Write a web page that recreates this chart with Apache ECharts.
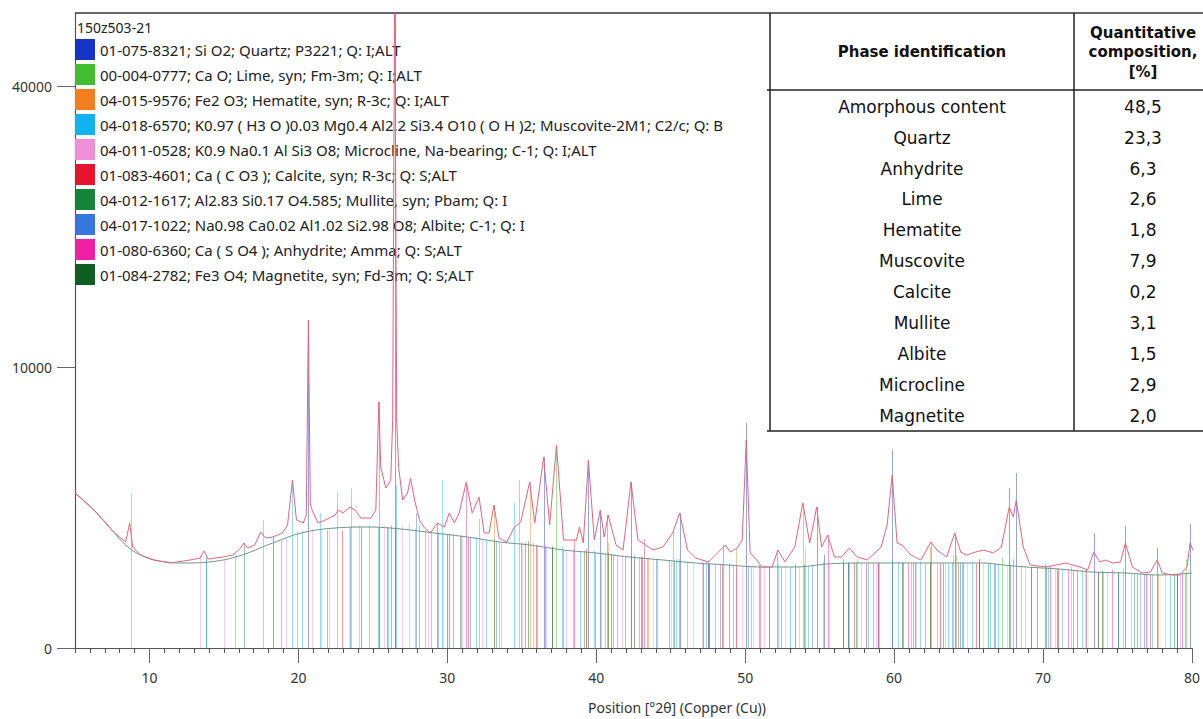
<!DOCTYPE html>
<html><head><meta charset="utf-8">
<script src="https://cdn.jsdelivr.net/npm/echarts@6/dist/echarts.min.js"></script>
<style>html,body{margin:0;padding:0;background:#fff}#c{width:1203px;height:719px}</style>
</head><body><div id="c"></div>
<script>
// ---------- DATA ----------
const sampleName = '150z503-21';
const xAxisTitle = 'Position [°2θ] (Copper (Cu))';
const xTickLabels = [10, 20, 30, 40, 50, 60, 70, 80];
const yTickCounts = [0, 10000, 40000];

const patternTheta = [5.0,6.27,7.6,8.4,8.67,8.87,9.4,10.27,11.4,12.73,13.4,13.67,13.93,14.93,15.6,16.13,16.33,16.6,17.07,17.47,17.8,18.27,18.93,19.27,19.6,19.87,20.33,20.53,20.67,20.8,21.0,21.33,21.8,22.47,22.67,23.0,23.47,23.8,24.2,24.87,25.2,25.4,25.53,25.87,26.2,26.33,26.47,26.6,26.73,27.0,27.33,27.53,27.8,28.13,28.47,28.87,29.33,29.8,30.13,30.47,30.8,31.27,31.67,32.13,32.47,32.8,33.13,33.47,34.0,34.47,34.93,35.53,35.87,36.47,36.87,37.33,37.8,38.67,38.87,39.13,39.47,39.87,40.27,40.53,40.8,41.33,41.8,42.33,42.8,43.13,43.8,44.47,45.13,45.6,46.13,46.67,47.53,48.13,48.67,49.0,49.47,49.8,50.07,50.33,50.67,51.13,51.8,52.2,52.67,53.33,53.87,54.33,54.8,55.13,55.53,56.0,56.47,57.0,57.53,58.2,59.13,59.53,59.87,60.2,60.53,61.13,61.8,62.47,62.87,63.53,64.07,64.47,64.87,65.47,66.0,66.67,67.2,67.73,68.0,68.2,68.67,69.13,70.2,71.53,72.47,73.0,73.4,73.8,74.2,74.67,75.2,75.53,76.0,76.67,77.2,77.67,78.0,78.67,79.2,79.67,79.87,80.2];
const patternCounts = [3043,2412,1704,1423,1979,1292,1095,981,915,981,1026,1192,1003,1049,1095,1267,1396,1267,1344,1704,1532,1560,1675,1916,3574,2075,1979,2240,13625,2590,2308,1979,2075,2240,2412,2308,2518,2412,2140,2140,2412,7664,4149,3242,3574,6584,60000,6584,4149,2774,3043,3660,2774,2075,1824,1675,1979,1854,2308,1979,2308,3490,2308,2888,1675,1675,2590,1532,1423,1824,2011,3490,1979,4620,1916,5219,1477,1477,1854,1396,4476,1477,2412,1560,2240,1344,1216,3490,1477,1396,1216,1292,1675,2308,1216,1026,937,1143,1344,1167,1267,1477,5479,1143,1026,831,831,1216,937,1292,2663,1396,2518,1292,1617,1049,1049,1267,1049,981,1292,1916,3791,1396,1344,1095,981,1423,1216,1049,1675,1167,1095,1167,1216,1143,1292,2518,2173,2774,1292,872,831,915,831,771,1167,937,981,915,937,1396,831,712,731,981,712,675,675,831,1396,1095];

const backgroundTheta = [5.0,6.27,7.6,8.4,9.4,10.67,12.33,14.0,16.0,18.27,20.2,22.47,24.67,26.87,29.13,31.33,33.53,35.53,37.8,40.0,42.2,44.47,46.67,48.87,51.13,53.33,55.53,57.73,60.0,63.33,66.0,67.33,68.87,71.07,73.33,75.53,77.8,80.0];
const backgroundCounts = [3043,2412,1704,1344,1095,959,915,937,1072,1396,1675,1824,1854,1794,1675,1560,1423,1344,1216,1143,1049,981,915,872,831,831,894,915,915,915,915,872,831,790,731,712,675,712];

const phaseNames = [
  '01-075-8321; Si O2; Quartz; P3221; Q: I;ALT',
  '00-004-0777; Ca O; Lime, syn; Fm-3m; Q: I;ALT',
  '04-015-9576; Fe2 O3; Hematite, syn; R-3c; Q: I;ALT',
  '04-018-6570; K0.97 ( H3 O )0.03 Mg0.4 Al2.2 Si3.4 O10 ( O H )2; Muscovite-2M1; C2/c; Q: B',
  '04-011-0528; K0.9 Na0.1 Al Si3 O8; Microcline, Na-bearing; C-1; Q: I;ALT',
  '01-083-4601; Ca ( C O3 ); Calcite, syn; R-3c; Q: S;ALT',
  '04-012-1617; Al2.83 Si0.17 O4.585; Mullite, syn; Pbam; Q: I',
  '04-017-1022; Na0.98 Ca0.02 Al1.02 Si2.98 O8; Albite; C-1; Q: I',
  '01-080-6360; Ca ( S O4 ); Anhydrite; Amma; Q: S;ALT',
  '01-084-2782; Fe3 O4; Magnetite, syn; Fd-3m; Q: S;ALT'
];

// reference sticks: [position °2θ, counts]
const quartzSticks = [[20.67,13625],[26.47,60000],[36.47,4620],[39.47,4476],[40.27,2400],[42.33,3490],[45.6,2300],[50.07,6411],[54.8,2518],[55.27,1100],[59.87,4965],[64.07,1650],[65.73,1000],[67.73,3242],[68.2,3879],[73.4,1675],[75.53,1885],[77.67,1267],[79.87,1947]];
const limeSticks = [[32.13,2100],[37.33,5219],[53.87,2663],[64.13,1100],[67.27,1050],[79.6,1000]];
const hematiteSticks = [[24.07,1900],[33.13,2590],[35.53,3490],[39.3,1170],[40.8,1400],[43.5,1020],[49.4,1250],[54.0,1250],[57.53,1000],[62.4,1300],[63.93,1100],[69.6,820],[71.87,850],[75.4,800],[77.7,680]];
const muscoviteSticks = [[8.73,3043],[13.8,1000],[15.73,1100],[17.6,2075],[19.6,3574],[19.93,1700],[20.27,1750],[21.47,2308],[22.6,3082],[23.53,3242],[24.73,1900],[25.33,1850],[26.0,1850],[26.53,3365],[27.8,1800],[28.47,1750],[28.9,1700],[29.67,3574],[30.93,1600],[31.93,1550],[32.6,1480],[33.5,1420],[34.47,2663],[34.8,3574],[35.73,1400],[36.0,1330],[37.67,1300],[38.47,1250],[38.9,1180],[39.87,1200],[40.6,1120],[41.4,1100],[42.87,1050],[43.4,1020],[44.1,990],[45.13,1763],[45.33,1000],[46.1,930],[47.4,950],[48.0,890],[49.2,870],[50.4,845],[51.6,830],[52.2,900],[53.0,830],[54.2,860],[55.2,950],[56.6,920],[57.0,910],[58.27,950],[59.0,915],[60.27,950],[61.1,915],[61.73,950],[62.9,915],[63.6,915],[64.53,920],[65.2,915],[66.47,900],[67.0,885],[68.53,850],[69.6,820],[70.33,820],[71.3,785],[72.6,780],[74.0,725],[75.0,715],[76.53,720],[77.3,685],[78.5,690],[79.5,705]];
const microclineSticks = [[13.4,1100],[15.0,1000],[19.2,1550],[20.93,1800],[21.5,1750],[22.07,1750],[23.4,1850],[24.2,1850],[25.73,1900],[26.93,1900],[27.4,2000],[28.7,1700],[29.73,1700],[30.13,1650],[31.0,1580],[32.33,1500],[33.6,1420],[35.0,1400],[36.6,1350],[38.0,1210],[40.3,1130],[41.73,1100],[42.53,1050],[43.8,1000],[45.0,960],[46.5,920],[47.07,950],[49.8,860],[50.53,880],[51.27,870],[52.7,830],[53.6,840],[55.6,900],[57.8,915],[58.8,915],[60.53,950],[61.5,915],[63.4,920],[64.9,915],[66.0,900],[67.6,865],[68.8,860],[70.8,795],[72.8,780],[74.3,720],[75.9,705],[77.0,740],[78.2,685],[79.2,700]];
const calciteSticks = [[22.93,1750],[29.33,1979],[31.4,1560],[35.93,1350],[39.33,1250],[43.07,1050],[47.47,950],[48.47,900],[56.6,905],[57.33,930],[58.1,915],[60.6,920],[61.4,915],[63.1,915],[64.6,920],[65.53,900],[69.2,825],[70.13,900],[71.0,790],[72.87,780],[73.7,730],[76.3,700],[77.2,685],[79.0,700]];
const mulliteSticks = [[16.33,1396],[25.93,1850],[26.2,1900],[30.87,1600],[33.13,1500],[35.2,1400],[37.0,1300],[39.2,1200],[40.8,1150],[42.53,1100],[45.2,955],[47.6,900],[48.93,900],[51.6,830],[53.93,880],[57.47,920],[58.9,915],[60.53,930],[61.3,915],[63.3,915],[64.4,920],[66.3,910],[67.8,860],[70.2,820],[72.3,760],[73.7,730],[76.1,700],[78.8,695]];
const albiteSticks = [[13.8,1050],[18.8,1450],[21.93,1750],[23.47,1850],[24.2,1850],[25.4,1850],[26.5,1830],[27.87,2300],[28.13,1900],[29.4,1680],[30.13,1650],[30.4,1650],[31.5,1560],[33.3,1430],[34.93,1400],[36.53,1300],[37.8,1220],[39.9,1150],[41.1,1100],[42.33,1100],[44.0,990],[45.53,1000],[47.5,900],[48.33,900],[50.2,850],[50.93,870],[52.4,830],[54.5,865],[56.93,920],[58.6,915],[59.87,950],[62.1,915],[63.9,915],[66.7,895],[69.2,825],[72.0,770],[76.9,690]];
const anhydriteSticks = [[25.4,7664],[31.27,3490],[38.53,1500],[40.73,2240],[41.9,1060],[43.2,1500],[44.9,960],[47.6,900],[48.53,1344],[49.4,865],[51.0,835],[52.13,1216],[55.53,1617],[56.6,1000],[58.9,915],[60.9,915],[62.47,1423],[64.3,915],[66.8,890],[68.0,1000],[70.47,850],[71.7,775],[74.6,780],[76.8,690],[79.3,700]];
const magnetiteSticks = [[18.27,1560],[30.0,1650],[35.4,1450],[37.0,1300],[41.0,1100],[43.0,1050],[47.2,905],[53.33,880],[56.87,920],[62.4,930],[65.7,915],[70.93,800],[73.93,760],[75.0,715],[79.0,700]];

const tableHeader = ['Phase identification', ['Quantitative', 'composition,', '[%]']];
const tablePhases = ['Amorphous content','Quartz','Anhydrite','Lime','Hematite','Muscovite','Calcite','Mullite','Albite','Microcline','Magnetite'];
const tableValues = ['48,5','23,3','6,3','2,6','1,8','7,9','0,2','3,1','1,5','2,9','2,0'];

// ---------- STYLE ----------
const phaseColors = ['#1634c4','#3fbf2e','#f27e1e','#12b2f0','#ef8fd6','#e8132f','#13843a','#3676df','#ee1fa2','#0f5f22'];
const allSticks = [quartzSticks, limeSticks, hematiteSticks, muscoviteSticks, microclineSticks, calciteSticks, mulliteSticks, albiteSticks, anhydriteSticks, magnetiteSticks];
const FONT = '"Noto Sans", "Open Sans", sans-serif';

function stickSeries(name, sticks, color) {
  return {
    type: 'custom', name: name, coordinateSystem: 'cartesian2d', clip: true, z: 2,
    itemStyle: { color: color }, silent: true,
    data: sticks.map(s => [s[0], Math.sqrt(s[1])]),
    encode: { x: 0, y: 1 },
    renderItem: function (params, api) {
      const p0 = api.coord([api.value(0), 0]);
      const p1 = api.coord([api.value(0), api.value(1)]);
      const x = Math.round(p0[0]) + 0.5;
      return { type: 'line', shape: { x1: x, y1: p0[1], x2: x, y2: p1[1] },
        style: { stroke: color, lineWidth: 1, opacity: 0.45 } };
    }
  };
}

const series = allSticks.map((s, i) => stickSeries(phaseNames[i], s, phaseColors[i]));
series.push({
  type: 'line', name: 'background', smooth: 0.4, showSymbol: false, silent: true, z: 3,
  data: backgroundTheta.map((t, i) => [t, Math.sqrt(backgroundCounts[i])]),
  lineStyle: { color: '#6b9687', width: 1 }, itemStyle: { color: '#6b9687' }
});
series.push({
  type: 'line', name: sampleName, showSymbol: false, silent: true, z: 4, clip: true,
  data: patternTheta.map((t, i) => [t, Math.sqrt(patternCounts[i])]),
  lineStyle: { color: '#e3647e', width: 1 }, itemStyle: { color: '#e3647e' }
});

const minorTicks = [];
for (let v = 5; v <= 80; v++) minorTicks.push(v);

// table layout
const tblLeft = 770, tblTop = 13, tblRight = 1203, tblBottom = 431, tblMid = 1074, hdrBottom = 90;
const colA = 922, colB = 1143, rowY0 = 106.7, rowStep = 30.93;
const tableGraphics = [
  { type: 'rect', shape: { x: tblLeft, y: tblTop, width: tblRight - tblLeft, height: tblBottom - tblTop }, style: { fill: '#fff' } },
  { type: 'line', shape: { x1: 75, y1: tblTop, x2: tblRight, y2: tblTop }, style: { stroke: '#333', lineWidth: 1.3 } },
  { type: 'line', shape: { x1: tblLeft, y1: tblTop, x2: tblLeft, y2: tblBottom }, style: { stroke: '#222', lineWidth: 1.5 } },
  { type: 'line', shape: { x1: tblMid, y1: tblTop, x2: tblMid, y2: tblBottom }, style: { stroke: '#222', lineWidth: 1.5 } },
  { type: 'line', shape: { x1: tblLeft - 3, y1: hdrBottom, x2: tblRight, y2: hdrBottom }, style: { stroke: '#222', lineWidth: 1.5 } },
  { type: 'line', shape: { x1: tblLeft - 3, y1: tblBottom, x2: tblRight, y2: tblBottom }, style: { stroke: '#222', lineWidth: 1.5 } },
  { type: 'text', x: colA, y: 52, style: { text: tableHeader[0], align: 'center', verticalAlign: 'middle', font: 'bold 15px "DejaVu Sans"', fill: '#111' } }
];
tableHeader[1].forEach((t, i) => tableGraphics.push({ type: 'text', x: colB, y: 33 + i * 19.3,
  style: { text: t, align: 'center', verticalAlign: 'middle', font: 'bold 15px "DejaVu Sans"', fill: '#111' } }));
tablePhases.forEach((t, i) => {
  tableGraphics.push({ type: 'text', x: colA, y: rowY0 + i * rowStep, style: { text: t, align: 'center', verticalAlign: 'middle', font: '17px "DejaVu Sans"', fill: '#111' } });
  tableGraphics.push({ type: 'text', x: colB, y: rowY0 + i * rowStep, style: { text: tableValues[i], align: 'center', verticalAlign: 'middle', font: '17px "DejaVu Sans"', fill: '#111' } });
});

const chart = echarts.init(document.getElementById('c'), null, { renderer: 'svg', width: 1203, height: 719 });
chart.setOption({
  animation: false,
  backgroundColor: '#fff',
  grid: { left: 75, right: 3, top: 13, bottom: 71, containLabel: false },
  xAxis: [{
    type: 'value', min: 5, max: 80,
    axisLine: { show: true, lineStyle: { color: '#555', width: 1.2 } },
    axisTick: { show: true, customValues: minorTicks, length: 5, lineStyle: { color: '#555' } },
    axisLabel: { customValues: xTickLabels, margin: 22, fontSize: 14, color: '#333', fontFamily: FONT },
    splitLine: { show: false }
  }, {
    type: 'value', min: 5, max: 80, position: 'bottom',
    axisLine: { show: false },
    axisTick: { show: true, customValues: xTickLabels, length: 15, lineStyle: { color: '#666' } },
    axisLabel: { show: false }, splitLine: { show: false }
  }],
  yAxis: {
    type: 'value', min: 0, max: 226,
    axisLine: { show: true, lineStyle: { color: '#555', width: 1.2 } },
    axisTick: { show: true, customValues: yTickCounts.map(Math.sqrt), length: 18, lineStyle: { color: '#666' } },
    axisLabel: { customValues: yTickCounts.map(Math.sqrt), formatter: v => String(Math.round(v * v)), margin: 23, fontSize: 14, color: '#333', fontFamily: FONT },
    splitLine: { show: false }
  },
  legend: {
    data: phaseNames, orient: 'vertical', left: 75, top: 39, itemWidth: 20, itemHeight: 21, itemGap: 4,
    icon: 'rect', selectedMode: false, padding: 0,
    textStyle: { fontFamily: FONT, fontSize: 15, color: '#222' }
  },
  graphic: [
    { type: 'text', x: 77, y: 27, z: 100, style: { text: sampleName, verticalAlign: 'middle', font: '14px ' + FONT, fill: '#222' } },
    { type: 'text', x: 677, y: 707, z: 100, style: { text: xAxisTitle, align: 'center', verticalAlign: 'middle', font: '14px ' + FONT, fill: '#333' } },
    { type: 'group', z: 100, children: tableGraphics }
  ],
  series: series
});
</script></body></html>
